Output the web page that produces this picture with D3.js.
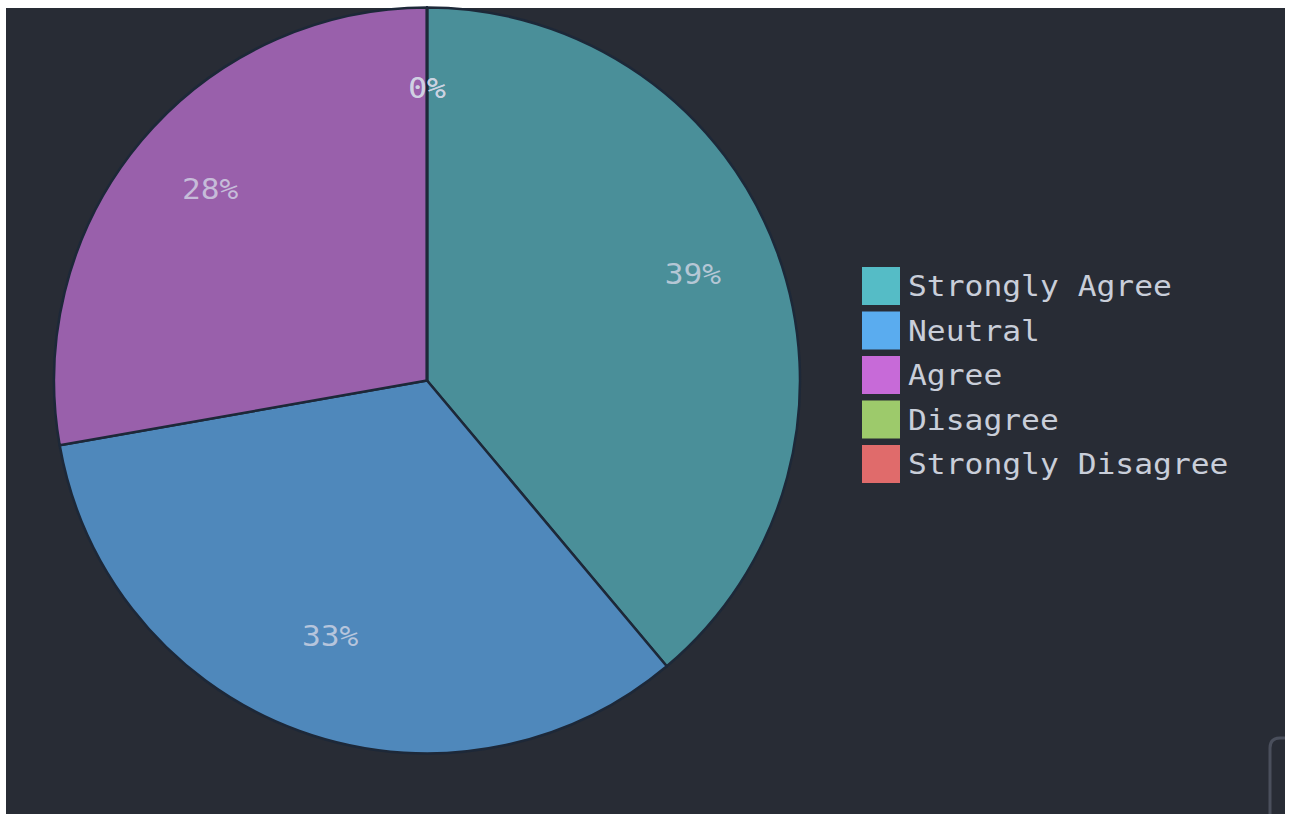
<!DOCTYPE html>
<html><head><meta charset="utf-8">
<script src="https://cdn.jsdelivr.net/npm/d3@7"></script>
<style>
html,body{margin:0;padding:0;background:#fff;}
svg{display:block;}
</style></head>
<body>
<svg id="chart" width="1289" height="814"></svg>
<script>
const categories = ["Strongly Agree", "Neutral", "Agree", "Disagree", "Strongly Disagree"];
const counts = [14, 12, 10, 0, 0];
const legendColors = ["#55bcc6", "#5aacef", "#c76ad8", "#9dca6b", "#e06b6b"];
const sliceColors = ["#4a8f99", "#4f88bb", "#9960ab", "#86ad5e", "#c05e60"];

const W = 1289, H = 814;
const svg = d3.select("#chart");
const bg = "#282c35";
svg.append("rect").attr("x", 6).attr("y", 8).attr("width", 1279).attr("height", H - 8).attr("fill", bg);

const cx = 427, cy = 380.5, R = 373;
const total = d3.sum(counts);
const pie = d3.pie().value(d => d).sort(null);
const arcs = pie(counts);
const arc = d3.arc().innerRadius(0).outerRadius(R);
const g = svg.append("g").attr("transform", `translate(${cx},${cy})`);

g.selectAll("path.slice").data(arcs).enter().append("path")
  .attr("class", "slice")
  .attr("d", arc)
  .attr("fill", (d, i) => sliceColors[i])
  .attr("stroke", "#1d2838")
  .attr("stroke-width", 2.5)
  .attr("stroke-linejoin", "round");

const labelArc = d3.arc().innerRadius(283).outerRadius(283);
const fmt = v => Math.round(v / total * 100) + "%";
g.selectAll("text.lbl").data(arcs).enter().append("text")
  .attr("class", "lbl")
  .attr("transform", d => {
    const [x, y] = labelArc.centroid(d);
    return `translate(${x},${y})`;
  })
  .attr("text-anchor", "middle")
  .attr("font-family", "'DejaVu Sans Mono', 'Liberation Mono', monospace")
  .attr("font-size", 28)
  .attr("textLength", d => fmt(d.data).length * 18.8)
  .attr("lengthAdjust", "spacingAndGlyphs")
  .attr("fill", "#d3d7e6")
  .attr("fill-opacity", 0.78)
  .text(d => fmt(d.data));

// legend
const lg = svg.append("g").attr("transform", "translate(862,267)");
const rowH = 44.5;
const items = lg.selectAll("g.item").data(categories).enter().append("g")
  .attr("class", "item")
  .attr("transform", (d, i) => `translate(0,${i * rowH})`);
items.append("rect").attr("width", 38).attr("height", 38)
  .attr("fill", (d, i) => legendColors[i]);
items.append("text")
  .attr("x", 46).attr("y", 29)
  .attr("font-family", "'DejaVu Sans Mono', 'Liberation Mono', monospace")
  .attr("font-size", 28)
  .attr("textLength", d => d.length * 18.85)
  .attr("lengthAdjust", "spacingAndGlyphs")
  .attr("fill", "#c9ced9")
  .text(d => d);

// partial UI control at bottom-right corner
svg.append("path")
  .attr("d", "M1270,814 L1270,748 Q1270,738 1280,738 L1285,738")
  .attr("fill", "none").attr("stroke", "#4a4f5c").attr("stroke-width", 3);
</script>
</body></html>
